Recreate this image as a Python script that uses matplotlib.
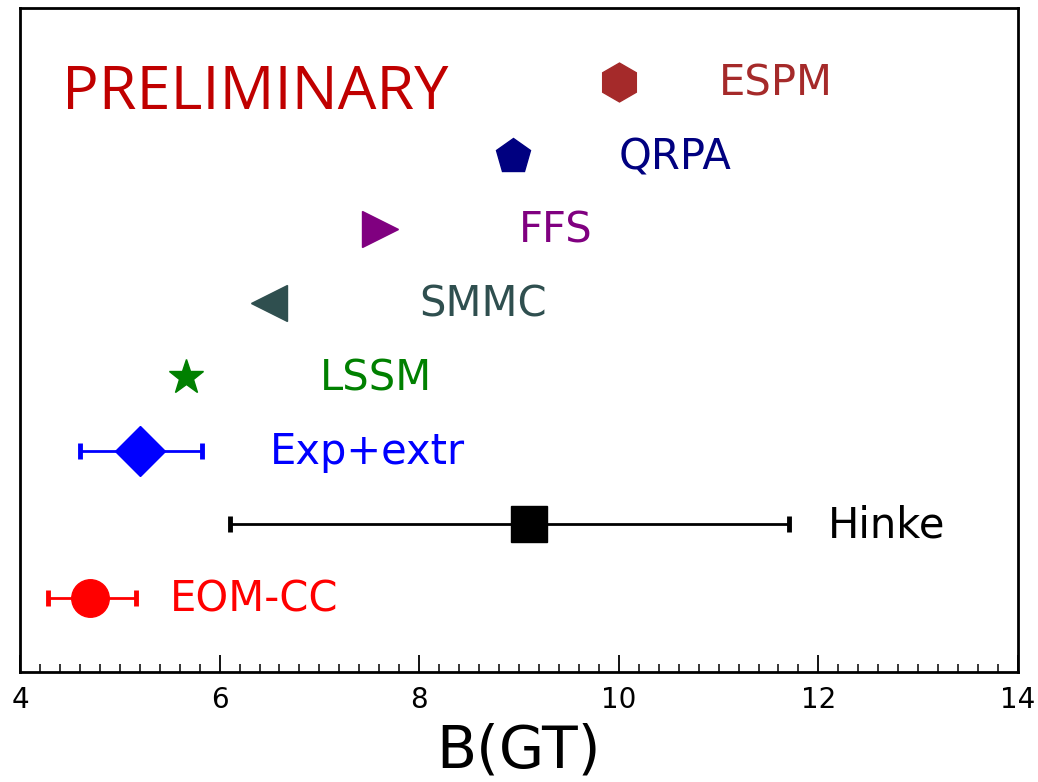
import matplotlib
matplotlib.use("Agg")
import matplotlib.pyplot as plt
from matplotlib.ticker import MultipleLocator

labels = ["EOM-CC", "Hinke", "Exp+extr", "LSSM", "SMMC", "FFS", "QRPA", "ESPM"]
values = [4.70, 9.10, 5.20, 5.66, 6.49, 7.61, 8.94, 10.0]
err_lo = [0.42, 3.00, 0.60, None, None, None, None, None]
err_hi = [0.46, 2.61, 0.62, None, None, None, None, None]
label_x = [5.5, 12.1, 6.5, 7.0, 8.0, 9.0, 10.0, 11.0]
ypos = [1, 2, 3, 4, 5, 6, 7, 8]
colors = ["red", "black", "blue", "green", "darkslategray", "purple", "navy", "brown"]
markers = ["o", "s", "D", "*", "<", ">", "p", "h"]
msizes = [27, 26, 25, 26, 26, 26, 26, 28]

fig = plt.figure(figsize=(10.38, 7.82), dpi=100)
ax = fig.add_axes([0.0193, 0.1407, 0.9614, 0.8491])

for i in range(len(labels)):
    if err_lo[i] is not None:
        ax.errorbar(values[i], ypos[i], xerr=[[err_lo[i]], [err_hi[i]]],
                    fmt=markers[i], color=colors[i], markersize=msizes[i],
                    elinewidth=2, capsize=6, capthick=3.5)
    else:
        ax.plot(values[i], ypos[i], marker=markers[i], color=colors[i],
                markersize=msizes[i], linestyle="none")
    ax.text(label_x[i], ypos[i] - 0.02, labels[i], color=colors[i], fontsize=30,
            va="center", ha="left")

ax.text(4.42, 7.85, "PRELIMINARY", color="#C00000", fontsize=44,
        va="center", ha="left", family="Open Sans")

ax.set_xlim(4, 14)
ax.set_ylim(0, 9)
ax.set_yticks([])
ax.xaxis.set_major_locator(MultipleLocator(2))
ax.xaxis.set_minor_locator(MultipleLocator(0.2))
ax.tick_params(axis="x", which="major", direction="in", length=12, width=1.3,
               labelsize=20, pad=10, top=False)
ax.tick_params(axis="x", which="minor", direction="in", length=6, width=1.1, top=False)
for s in ax.spines.values():
    s.set_linewidth(2)
ax.set_xlabel("B(GT)", fontsize=42, labelpad=6)

fig.savefig("out.png", dpi=100)
